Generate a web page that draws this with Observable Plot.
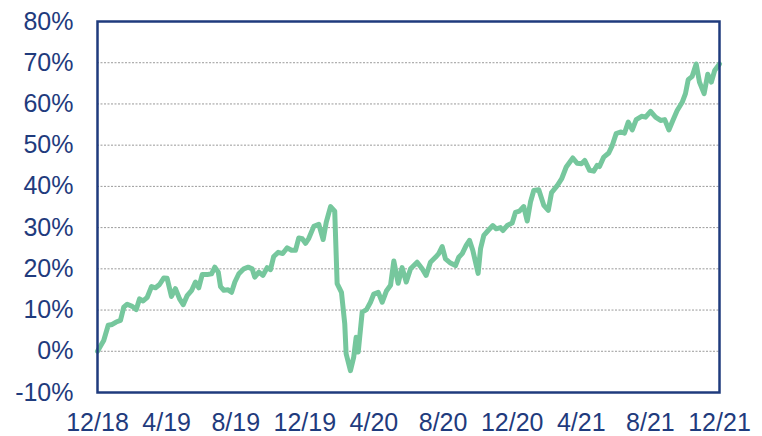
<!DOCTYPE html>
<html>
<head>
<meta charset="utf-8">
<script src="https://cdn.jsdelivr.net/npm/d3@7"></script>
<script src="https://cdn.jsdelivr.net/npm/@observablehq/plot@0.6"></script>
<style>
  html, body { margin: 0; padding: 0; background: #fff; }
</style>
</head>
<body>
<div id="chart"></div>
<script>
// months since Dec 2018
const months = [0,0.36,0.62,0.85,1.08,1.33,1.52,1.72,2.01,2.24,2.43,2.64,2.88,3.13,3.36,3.59,3.84,4.03,4.28,4.51,4.75,4.96,5.19,5.44,5.67,5.86,6.06,6.35,6.60,6.79,6.99,7.12,7.31,7.56,7.76,7.95,8.18,8.47,8.72,8.95,9.10,9.34,9.57,9.82,10.01,10.20,10.46,10.72,10.98,11.23,11.46,11.65,11.85,12.04,12.23,12.52,12.81,13.06,13.24,13.49,13.73,13.87,14.12,14.31,14.39,14.64,14.83,14.97,15.09,15.32,15.57,15.80,15.99,16.25,16.48,16.73,16.96,17.15,17.40,17.63,17.87,18.12,18.50,18.79,19.02,19.27,19.56,19.75,19.95,20.14,20.43,20.72,20.91,21.11,21.34,21.53,21.72,22.03,22.17,22.36,22.61,22.88,23.08,23.32,23.46,23.71,24.00,24.19,24.42,24.67,24.87,25.06,25.25,25.54,25.83,26.09,26.28,26.61,26.86,27.13,27.51,27.76,28.01,28.20,28.48,28.72,28.92,29.05,29.30,29.59,29.79,30.02,30.27,30.50,30.72,30.95,31.18,31.49,31.72,32.01,32.30,32.59,32.83,33.07,33.30,33.55,33.84,34.03,34.19,34.42,34.65,34.84,35.11,35.32,35.53,35.72,36.0];
// cumulative return, %
const values = [0,2.6,6.3,6.5,7.1,7.5,10.7,11.4,10.9,10.1,12.7,12.2,13.1,15.7,15.4,16.2,17.8,17.7,13.3,15.2,12.7,11.3,13.5,14.7,16.8,15.4,18.6,18.6,18.8,20.4,19.2,15.7,14.8,14.9,14.3,16.8,18.8,20.0,20.4,20.0,18.0,19.2,18.4,20.3,19.8,23.0,24.0,23.7,25.1,24.5,24.5,27.5,27.3,26.2,27.4,30.3,30.8,27.1,31.3,35.1,34.0,16.4,14.3,6.7,-0.6,-4.7,-1.4,3.4,-0.2,9.5,10.1,11.9,13.9,14.3,11.9,14.7,16.0,21.9,16.5,20.3,16.8,20.0,21.6,20.0,18.4,21.6,22.8,23.7,25.4,22.4,21.4,20.8,22.8,23.7,25.7,26.9,24.5,18.9,24.9,28.1,29.3,30.5,29.7,30.0,29.3,30.5,31.1,33.7,34.0,35.1,31.6,36.2,39.0,39.2,35.4,34.2,38.5,40.2,41.8,44.7,46.9,45.6,45.5,46.3,43.9,43.7,45.1,44.8,47.1,48.1,49.9,52.8,53.2,52.9,55.6,53.7,56.2,57.0,56.8,58.2,56.8,56.0,56.2,53.7,56.0,58.4,60.4,62.5,65.9,66.7,69.7,65.3,62.5,67.2,65.3,68.1,69.7];

const tickMonths = [0,4,8,12,16,20,24,28,32,36];
const tickLabels = ["12/18","4/19","8/19","12/19","4/20","8/20","12/20","4/21","8/21","12/21"];
const yTicks = [-10,0,10,20,30,40,50,60,70,80];
const gridValues = [0,10,20,30,40,50,60,70];

const data = months.map((m, i) => ({m, v: values[i]}));

const navy = "#1f3b7d";
const green = "#76c79d";

const chart = Plot.plot({
  width: 762,
  height: 436,
  marginLeft: 97,
  marginRight: 43,
  marginTop: 21,
  marginBottom: 44,
  style: {fontFamily: "'Liberation Sans', Arial, sans-serif", fontSize: "25px", color: navy, background: "#fff"},
  x: {domain: [0, 36]},
  y: {domain: [-10, 80]},
  marks: [
    Plot.ruleY(gridValues, {stroke: "#9a9a9a", strokeWidth: 1, strokeDasharray: "2,1.5"}),
    Plot.line(data, {x: "m", y: "v", stroke: green, strokeWidth: 5, strokeLinejoin: "round", strokeLinecap: "round"}),
    Plot.frame({stroke: navy, strokeWidth: 2.5}),
    Plot.axisX({ticks: tickMonths, tickFormat: d => tickLabels[tickMonths.indexOf(d)], tickSize: 0, tickPadding: 21, fontSize: 25, fill: navy, label: null}),
    Plot.axisY({ticks: yTicks, tickFormat: d => (d < 0 ? "-" + Math.abs(d) : String(d)) + "%", tickSize: 0, tickPadding: 24, fontSize: 25, fill: navy, label: null})
  ]
});
document.getElementById("chart").appendChild(chart);
</script>
</body>
</html>
